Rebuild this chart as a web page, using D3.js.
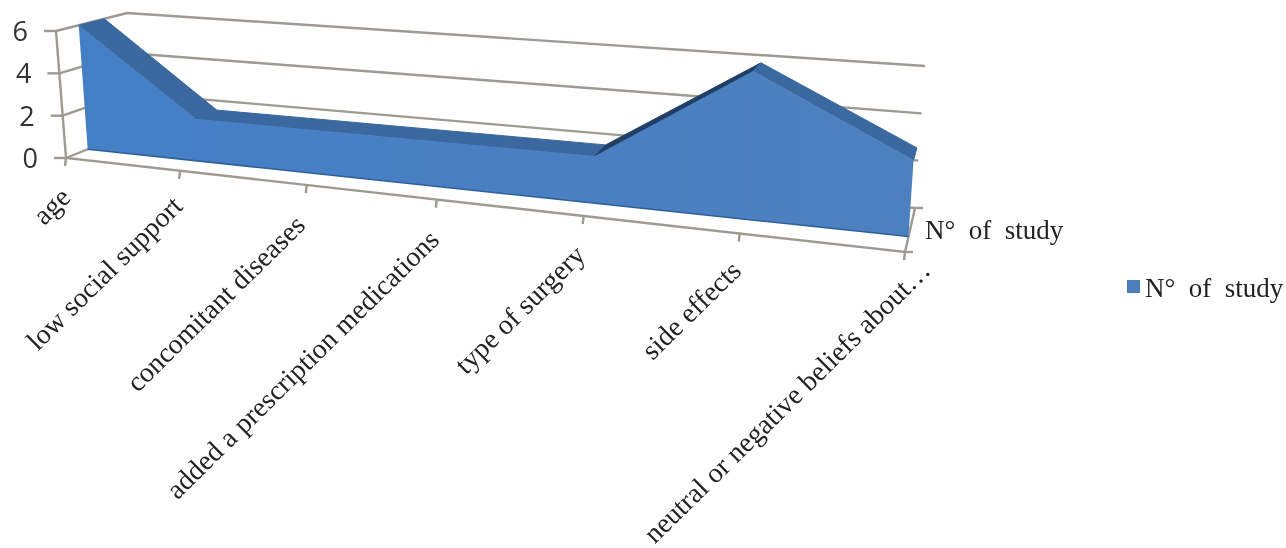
<!DOCTYPE html>
<html><head><meta charset="utf-8">
<script src="https://cdn.jsdelivr.net/npm/d3@7"></script>
<style>html,body{margin:0;background:#fff}svg{display:block;filter:blur(.5px)}text{white-space:pre}</style></head>
<body><svg id="c" width="1286" height="548"></svg>
<script>
const categories=["age","low social support","concomitant diseases","added a prescription medications","type of surgery","side effects","neutral or negative beliefs about…"];
const values=[6,2,2,2,2,6,3];
const yTicks=[0,2,4,6];
const seriesName="N°  of  study";

const svg=d3.select("#c");
// 3D box: corners of the plot box in the picture [front/back, left/right, bottom/top]
const box={fLB:[66,158],fLT:[56,31],fRB:[905,252],fRT:[916,90],bLB:[128,133],bLT:[127,13],bRB:[915,208],bRT:[925,66]};
const uScale=d3.scaleLinear().domain(d3.range(categories.length)).range([0,.136,.287,.442,.617,.803,1]);
const vScale=d3.scaleLinear().domain([0,6]).range([0,1]);
const lerp=(a,b,t)=>[a[0]+(b[0]-a[0])*t,a[1]+(b[1]-a[1])*t];
function P(i,v,d){
  const u=uScale(i),t=vScale(v);
  const fb=lerp(box.fLB,box.fRB,u),ft=lerp(box.fLT,box.fRT,u),bb=lerp(box.bLB,box.bRB,u),bt=lerp(box.bLT,box.bRT,u);
  return lerp(lerp(fb,ft,t),lerp(bb,bt,t),d);
}
const last=categories.length-1, grid="#9e9a92", d1=.32, d2=.68;
const line=d3.line();
const labelOff=[[6,41],[4,37],[0,42],[4,42],[3,41],[3,39],[27,20]];
const gl=svg.append("g").attr("fill","none").attr("stroke",grid).attr("stroke-width",2.4);
yTicks.forEach(v=>{
  gl.append("path").attr("d",line([P(0,v,0),P(0,v,1),P(last,v,1)]));
  const p=P(0,v,0);
  gl.append("path").attr("d",line([[p[0]-12,p[1]],p]));
  svg.append("text").attr("x",p[0]-28).attr("y",p[1]+10).attr("text-anchor","end")
    .attr("font-family","'Open Sans',sans-serif").attr("font-size",27).attr("fill","#333").text(v);
});
gl.append("path").attr("d",line([P(0,6,0),P(0,0,0),P(last,0,0),P(last,0,1)]));
// category ticks
categories.forEach((c,i)=>{
  const p=P(i,0,0);
  gl.append("path").attr("d",line([p,[p[0]-1,p[1]+8]]));
  svg.append("text").attr("transform",`translate(${p[0]+labelOff[i][0]},${p[1]+labelOff[i][1]}) rotate(-44.5)`)
    .attr("text-anchor","end").attr("font-family","'Liberation Serif',serif").attr("font-size",28).attr("fill","#222").text(c);
});
const dt=P(last,0,1);
gl.append("path").attr("d",line([dt,[dt[0]+8,dt[1]]]));
gl.append("path").attr("d",line([[P(last,0,0)[0]-1,P(last,0,0)[1]],[P(last,0,0)[0]+8,P(last,0,0)[1]]]));
// series top surface
const topFace=svg.append("g");
values.forEach((v,i)=>{
  if(i==last)return;
  const col=values[i+1]>v?"#1f3f66":"#3a689f";
  topFace.append("path").attr("d",line([P(i,v,d1),P(i+1,values[i+1],d1),P(i+1,values[i+1],d2),P(i,v,d2)])+"Z")
    .attr("fill",col).attr("stroke",col).attr("stroke-width",1);
});
// series front face
const pts=values.map((v,i)=>P(i,v,d1));
const base=values.map((v,i)=>P(i,0,.35)).reverse();
const defs=svg.append("defs").append("linearGradient").attr("id","g").attr("x1",0).attr("x2",1).attr("y1",0).attr("y2",0);
defs.append("stop").attr("offset",0).attr("stop-color","#447fc6");
defs.append("stop").attr("offset",1).attr("stop-color","#4d80bf");
svg.append("path").attr("d",line([...pts,...base])+"Z").attr("fill","url(#g)");
svg.append("path").attr("d",line([P(0,0,.35),P(last,0,.35)])).attr("stroke","#2f5f97").attr("stroke-width",1.5).attr("fill","none");
// labels
const serif={ "font-family":"'Liberation Serif',serif","font-size":27,"fill":"#222"};
const t1=svg.append("text").attr("x",925).attr("y",239).text(seriesName);
const t2=svg.append("text").attr("x",1145).attr("y",297).text(seriesName);
[t1,t2].forEach(t=>Object.entries(serif).forEach(([k,v])=>t.attr(k,v)));
svg.append("rect").attr("x",1127).attr("y",280).attr("width",13).attr("height",13).attr("fill","#4a7ebb");
</script></body></html>
